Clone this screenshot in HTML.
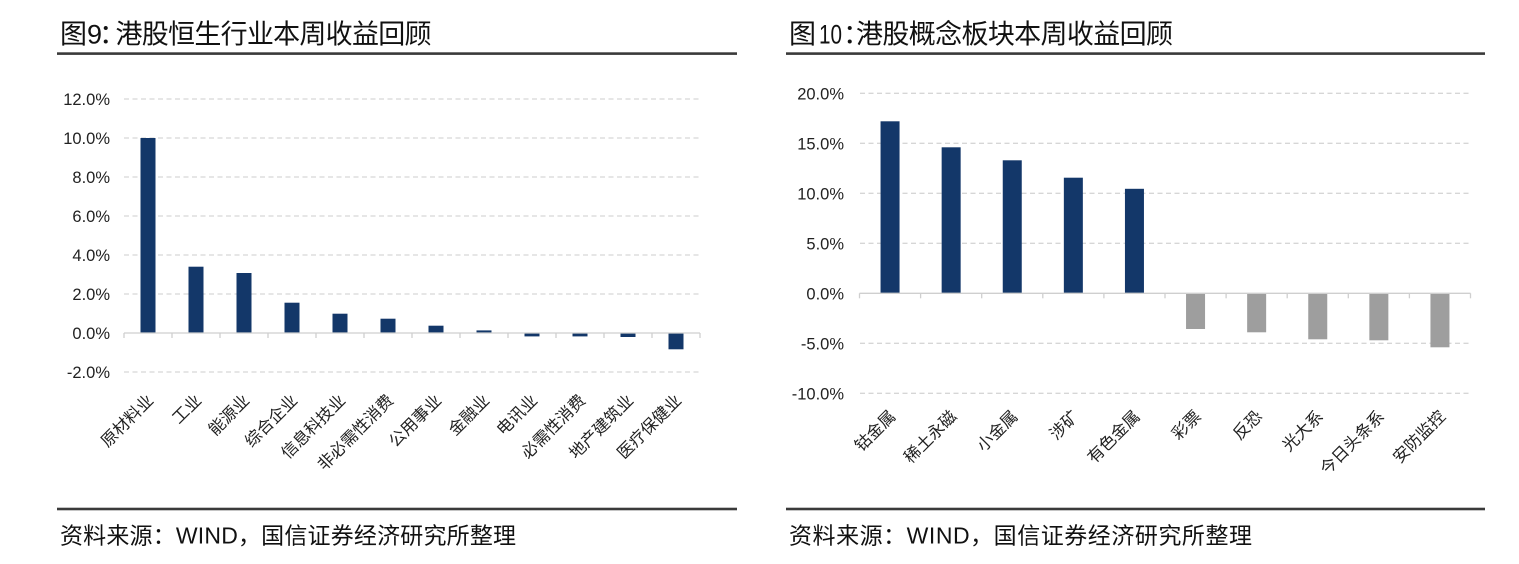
<!DOCTYPE html>
<html>
<head>
<meta charset="utf-8">
<style>
  html,body{margin:0;padding:0;background:#fff;}
  svg{display:block;}
  text{font-family:"Liberation Sans","Noto Sans CJK SC",sans-serif;}
</style>
</head>
<body>
<svg width="1519" height="564" viewBox="0 0 1519 564" xmlns="http://www.w3.org/2000/svg">
  <rect x="0" y="0" width="1519" height="564" fill="#fff"/>

  <!-- ============ LEFT CHART ============ -->
  <text x="60" y="43.5" font-size="27" fill="#111">图9</text>
  <text x="99" y="43.5" font-size="27" fill="#111">：</text>
  <text x="115.5" y="43.5" font-size="27" fill="#111" textLength="316" lengthAdjust="spacing">港股恒生行业本周收益回顾</text>
  <rect x="57" y="52.3" width="680" height="2.6" fill="#3a3a3a"/>

  <!-- gridlines -->
  <g stroke="#d6d6d6" stroke-width="1.3" stroke-dasharray="5,3.5">
    <line x1="124" y1="99" x2="700" y2="99"/>
    <line x1="124" y1="138" x2="700" y2="138"/>
    <line x1="124" y1="177" x2="700" y2="177"/>
    <line x1="124" y1="216" x2="700" y2="216"/>
    <line x1="124" y1="255" x2="700" y2="255"/>
    <line x1="124" y1="294" x2="700" y2="294"/>
    <line x1="124" y1="372" x2="700" y2="372"/>
  </g>
  <!-- y labels -->
  <g font-size="16.5" fill="#222" text-anchor="end">
    <text x="110" y="105">12.0%</text>
    <text x="110" y="144">10.0%</text>
    <text x="110" y="183">8.0%</text>
    <text x="110" y="222">6.0%</text>
    <text x="110" y="261">4.0%</text>
    <text x="110" y="300">2.0%</text>
    <text x="110" y="339">0.0%</text>
    <text x="110" y="378">-2.0%</text>
  </g>
  <!-- bars -->
  <g fill="#133769">
    <rect x="140.5" y="138" width="15" height="195"/>
    <rect x="188.5" y="266.7" width="15" height="66.3"/>
    <rect x="236.5" y="273" width="15" height="60"/>
    <rect x="284.5" y="302.7" width="15" height="30.3"/>
    <rect x="332.5" y="313.7" width="15" height="19.3"/>
    <rect x="380.5" y="318.7" width="15" height="14.3"/>
    <rect x="428.5" y="325.7" width="15" height="7.3"/>
    <rect x="476.5" y="330.4" width="15" height="2.6"/>
    <rect x="524.5" y="333" width="15" height="3.4"/>
    <rect x="572.5" y="333" width="15" height="3.4"/>
    <rect x="620.5" y="333" width="15" height="4"/>
    <rect x="668.5" y="333" width="15" height="16.3"/>
  </g>
  <!-- axis -->
  <g stroke="#cfcfcf" stroke-width="1.3">
    <line x1="124" y1="333" x2="700" y2="333"/>
    <line x1="124" y1="333" x2="124" y2="338"/>
    <line x1="172" y1="333" x2="172" y2="338"/>
    <line x1="220" y1="333" x2="220" y2="338"/>
    <line x1="268" y1="333" x2="268" y2="338"/>
    <line x1="316" y1="333" x2="316" y2="338"/>
    <line x1="364" y1="333" x2="364" y2="338"/>
    <line x1="412" y1="333" x2="412" y2="338"/>
    <line x1="460" y1="333" x2="460" y2="338"/>
    <line x1="508" y1="333" x2="508" y2="338"/>
    <line x1="556" y1="333" x2="556" y2="338"/>
    <line x1="604" y1="333" x2="604" y2="338"/>
    <line x1="652" y1="333" x2="652" y2="338"/>
    <line x1="700" y1="333" x2="700" y2="338"/>
  </g>
  <!-- x labels -->
  <g font-size="16.5" fill="#222" text-anchor="end">
    <text x="154.4" y="401.4" transform="rotate(-45 154.4 401.4)">原材料业</text>
    <text x="202.4" y="401.4" transform="rotate(-45 202.4 401.4)">工业</text>
    <text x="250.4" y="401.4" transform="rotate(-45 250.4 401.4)">能源业</text>
    <text x="298.4" y="401.4" transform="rotate(-45 298.4 401.4)">综合企业</text>
    <text x="346.4" y="401.4" transform="rotate(-45 346.4 401.4)">信息科技业</text>
    <text x="394.4" y="401.4" transform="rotate(-45 394.4 401.4)">非必需性消费</text>
    <text x="442.4" y="401.4" transform="rotate(-45 442.4 401.4)">公用事业</text>
    <text x="490.4" y="401.4" transform="rotate(-45 490.4 401.4)">金融业</text>
    <text x="538.4" y="401.4" transform="rotate(-45 538.4 401.4)">电讯业</text>
    <text x="586.4" y="401.4" transform="rotate(-45 586.4 401.4)">必需性消费</text>
    <text x="634.4" y="401.4" transform="rotate(-45 634.4 401.4)">地产建筑业</text>
    <text x="682.4" y="401.4" transform="rotate(-45 682.4 401.4)">医疗保健业</text>
  </g>
  <rect x="57" y="507.7" width="680" height="2.6" fill="#3a3a3a"/>
  <text x="60" y="543.7" font-size="23" fill="#111" textLength="456" lengthAdjust="spacing">资料来源：WIND，国信证券经济研究所整理</text>

  <!-- ============ RIGHT CHART ============ -->
  <text x="789" y="43.5" font-size="27" fill="#111">图</text>
  <text x="819" y="43.5" font-size="27" fill="#111" textLength="23" lengthAdjust="spacingAndGlyphs">10</text>
  <text x="843" y="43.5" font-size="27" fill="#111">：</text>
  <text x="856" y="43.5" font-size="27" fill="#111" textLength="317" lengthAdjust="spacing">港股概念板块本周收益回顾</text>
  <rect x="786" y="52.3" width="699" height="2.6" fill="#3a3a3a"/>

  <g stroke="#d6d6d6" stroke-width="1.3" stroke-dasharray="5,3.5">
    <line x1="860" y1="93.3" x2="1470.5" y2="93.3"/>
    <line x1="860" y1="143.3" x2="1470.5" y2="143.3"/>
    <line x1="860" y1="193.3" x2="1470.5" y2="193.3"/>
    <line x1="860" y1="243.3" x2="1470.5" y2="243.3"/>
    <line x1="860" y1="343.3" x2="1470.5" y2="343.3"/>
    <line x1="860" y1="393.3" x2="1470.5" y2="393.3"/>
  </g>
  <g font-size="16.5" fill="#222" text-anchor="end">
    <text x="844" y="99.3">20.0%</text>
    <text x="844" y="149.3">15.0%</text>
    <text x="844" y="199.3">10.0%</text>
    <text x="844" y="249.3">5.0%</text>
    <text x="844" y="299.3">0.0%</text>
    <text x="844" y="349.3">-5.0%</text>
    <text x="844" y="399.3">-10.0%</text>
  </g>
  <g fill="#133769">
    <rect x="880.55" y="121.3" width="19" height="172"/>
    <rect x="941.65" y="147.3" width="19" height="146"/>
    <rect x="1002.75" y="160.3" width="19" height="133"/>
    <rect x="1063.85" y="177.7" width="19" height="115.6"/>
    <rect x="1124.95" y="188.8" width="19" height="104.5"/>
  </g>
  <g fill="#9e9e9e">
    <rect x="1186.05" y="293.3" width="19" height="35.7"/>
    <rect x="1247.15" y="293.3" width="19" height="39"/>
    <rect x="1308.25" y="293.3" width="19" height="46"/>
    <rect x="1369.35" y="293.3" width="19" height="47"/>
    <rect x="1430.45" y="293.3" width="19" height="54"/>
  </g>
  <g stroke="#cfcfcf" stroke-width="1.3">
    <line x1="859.5" y1="293.3" x2="1470.5" y2="293.3"/>
    <line x1="859.5" y1="293.3" x2="859.5" y2="298.3"/>
    <line x1="920.6" y1="293.3" x2="920.6" y2="298.3"/>
    <line x1="981.7" y1="293.3" x2="981.7" y2="298.3"/>
    <line x1="1042.8" y1="293.3" x2="1042.8" y2="298.3"/>
    <line x1="1103.9" y1="293.3" x2="1103.9" y2="298.3"/>
    <line x1="1165" y1="293.3" x2="1165" y2="298.3"/>
    <line x1="1226.1" y1="293.3" x2="1226.1" y2="298.3"/>
    <line x1="1287.2" y1="293.3" x2="1287.2" y2="298.3"/>
    <line x1="1348.3" y1="293.3" x2="1348.3" y2="298.3"/>
    <line x1="1409.4" y1="293.3" x2="1409.4" y2="298.3"/>
    <line x1="1470.5" y1="293.3" x2="1470.5" y2="298.3"/>
  </g>
  <g font-size="16.5" fill="#222" text-anchor="end">
    <text x="896.5" y="417.4" transform="rotate(-45 896.5 417.4)">钴金属</text>
    <text x="957.6" y="417.4" transform="rotate(-45 957.6 417.4)">稀土永磁</text>
    <text x="1018.7" y="417.4" transform="rotate(-45 1018.7 417.4)">小金属</text>
    <text x="1079.8" y="417.4" transform="rotate(-45 1079.8 417.4)">涉矿</text>
    <text x="1140.9" y="417.4" transform="rotate(-45 1140.9 417.4)">有色金属</text>
    <text x="1202" y="417.4" transform="rotate(-45 1202 417.4)">彩票</text>
    <text x="1263.1" y="417.4" transform="rotate(-45 1263.1 417.4)">反恐</text>
    <text x="1324.2" y="417.4" transform="rotate(-45 1324.2 417.4)">光大系</text>
    <text x="1385.3" y="417.4" transform="rotate(-45 1385.3 417.4)">今日头条系</text>
    <text x="1446.4" y="417.4" transform="rotate(-45 1446.4 417.4)">安防监控</text>
  </g>
  <rect x="786" y="507.7" width="699" height="2.6" fill="#3a3a3a"/>
  <text x="789" y="543.7" font-size="23" fill="#111" textLength="463" lengthAdjust="spacing">资料来源：WIND，国信证券经济研究所整理</text>
</svg>
</body>
</html>
